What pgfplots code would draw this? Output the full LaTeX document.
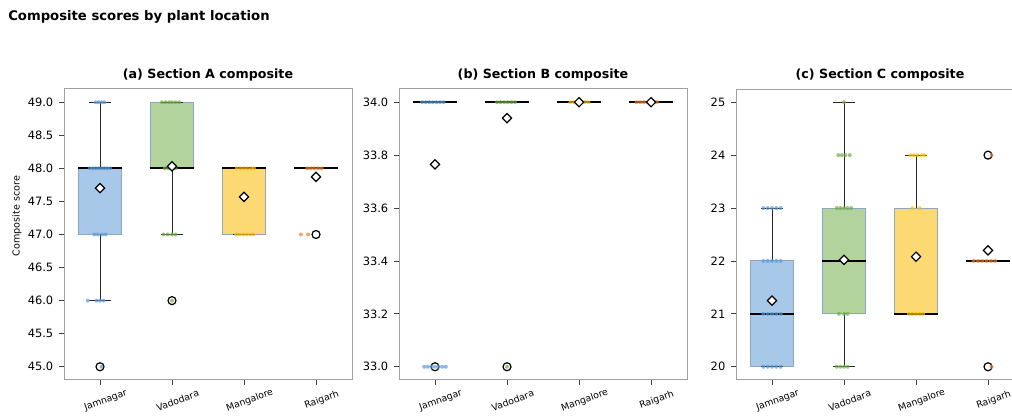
\documentclass[border=0pt]{standalone}
\usepackage{fontspec}
\setmainfont{DejaVu Sans}
\usepackage{pgfplots}
\pgfplotsset{compat=1.18}
\definecolor{ptblue}{HTML}{5B9BD5}
\definecolor{ptgreen}{HTML}{70AD47}
\definecolor{ptyellow}{HTML}{FFC000}
\definecolor{ptorange}{HTML}{ED7D31}
\definecolor{fblue}{HTML}{A7C8E8}
\definecolor{fgreen}{HTML}{B3D39C}
\definecolor{fyellow}{HTML}{FDD974}
\definecolor{spine}{HTML}{A0A0A0}
\definecolor{boxedge}{HTML}{8FA8BE}
\pgfplotsset{
  panel/.style={
    scale only axis, width=216pt, height=218.25pt, anchor=south west,
    xmin=-0.5, xmax=3.5, xtick={0,1,2,3},
    xticklabels={Jamnagar,Vadodara,Mangalore,Raigarh},
    tick pos=left, tick align=outside, major tick length=3.5pt,
    axis line style={spine, line width=0.75pt},
    every tick/.style={black!75, line width=0.6pt},
    xticklabel style={font=\fontsize{7}{8}\selectfont, rotate=20, anchor=center, yshift=-12.5pt},
    yticklabel style={font=\fontsize{8.6}{9}\selectfont, xshift=-1pt},
    /pgf/number format/assume math mode=true,
    unbounded coords=jump,
    clip=false,
  },
  onedec/.style={yticklabel style={/pgf/number format/fixed, /pgf/number format/fixed zerofill, /pgf/number format/precision=1}},
  bx/.style={draw=boxedge, line width=0.8pt, fill=#1},
  wh/.style={draw=black!85, line width=0.75pt},
  med/.style={draw=black, line width=1.4pt},
  pts/.style={only marks, mark=*, mark size=1.5pt, color=#1, fill opacity=0.7, draw opacity=0},
  outl/.style={only marks, mark=o, mark size=3pt, black, line width=0.9pt},
  mn/.style={only marks, mark=square*, mark size=2.45pt, black, mark options={rotate=45, fill=white, draw=black, line width=0.9pt}},
}
\begin{document}
\begin{tikzpicture}
% ---------- (a)
\begin{axis}[panel, onedec, at={(48pt,30pt)}, ymin=44.8, ymax=49.2, ytick={45,45.5,...,49}]
\addplot[bx=fblue] coordinates {(-0.3,47)(0.3,47)(0.3,48)(-0.3,48)(-0.3,47)};
\addplot[bx=fgreen] coordinates {(0.7,48)(1.3,48)(1.3,49)(0.7,49)(0.7,48)};
\addplot[bx=fyellow] coordinates {(1.7,47)(2.3,47)(2.3,48)(1.7,48)(1.7,47)};
\addplot[wh] coordinates {(0,48)(0,49) (0,nan) (-0.15,49)(0.15,49) (0,nan) (0,47)(0,46) (0,nan) (-0.15,46)(0.15,46) (0,nan)
 (1,48)(1,47) (1,nan) (0.85,49)(1.15,49) (1,nan) (0.85,47)(1.15,47) (1,nan)
 (1.85,48)(2.15,48) (2,nan) (1.85,47)(2.15,47) (2,nan) (2.85,48)(3.15,48)};
\addplot[med] coordinates {(-0.3,48)(0.3,48) (0,nan) (0.7,48)(1.3,48) (1,nan) (1.7,48)(2.3,48) (2,nan) (2.7,48)(3.3,48)};
\addplot[outl] coordinates {(0,45) (1,46) (3,47)};
\addplot[pts=ptblue] coordinates {(-0.06,49)(-0.02,49)(0.02,49)(0.06,49)
 (-0.14,48)(-0.1,48)(-0.06,48)(-0.02,48)(0.02,48)(0.06,48)(0.1,48)(0.14,48)
 (-0.08,47)(-0.03,47)(0.03,47)(0.08,47)
 (-0.17,46)(-0.05,46)(0,46)(0.05,46) (0.02,45)};
\addplot[pts=ptgreen] coordinates {(0.86,49)(0.91,49)(0.96,49)(1.0,49)(1.05,49)(1.1,49)
 (0.9,48)(0.95,48)(1.0,48)(1.05,48)
 (0.88,47)(0.94,47)(1.0,47)(1.05,47) (1.0,46)};
\addplot[pts=ptyellow] coordinates {(1.9,48)(1.95,48)(2.0,48)(2.05,48)(2.1,48)(2.14,48)
 (1.89,47)(1.94,47)(1.99,47)(2.04,47)(2.09,47)(2.13,47)};
\addplot[pts=ptorange] coordinates {(2.88,48)(2.93,48)(2.98,48)(3.03,48)(3.08,48)
 (2.79,47)(2.89,47)};
\addplot[mn] coordinates {(0,47.7) (1,48.03) (2,47.57) (3,47.87)};
\end{axis}
% ---------- (b)
\begin{axis}[panel, onedec, at={(299.25pt,30pt)}, ymin=32.95, ymax=34.05, ytick={33,33.2,...,34.01}]
\addplot[wh] coordinates {(-0.15,34)(0.15,34) (0,nan) (0.85,34)(1.15,34) (1,nan) (1.85,34)(2.15,34) (2,nan) (2.85,34)(3.15,34)};
\addplot[med] coordinates {(-0.3,34)(0.3,34) (0,nan) (0.7,34)(1.3,34) (1,nan) (1.7,34)(2.3,34) (2,nan) (2.7,34)(3.3,34)};
\addplot[outl] coordinates {(0,33) (1,33)};
\addplot[pts=ptblue] coordinates {(-0.18,34)(-0.13,34)(-0.08,34)(-0.03,34)(0.02,34)(0.07,34)(0.12,34)
 (-0.15,33)(-0.1,33)(-0.05,33)(0,33)(0.05,33)(0.1,33)(0.15,33)};
\addplot[pts=ptgreen] coordinates {(0.86,34)(0.91,34)(0.96,34)(1.01,34)(1.06,34)(1.11,34) (1.0,33)};
\addplot[pts=ptyellow] coordinates {(1.88,34)(1.93,34)(1.98,34)(2.03,34)(2.08,34)(2.13,34)};
\addplot[pts=ptorange] coordinates {(2.8,34)(2.85,34)(2.9,34)(2.95,34)(3.0,34)(3.05,34)(3.08,34)};
\addplot[mn] coordinates {(0,33.765) (1,33.94) (2,34) (3,34)};
\end{axis}
% ---------- (c)
\begin{axis}[panel, at={(552pt,30pt)}, ymin=19.75, ymax=25.25, ytick={20,...,25}]
\addplot[bx=fblue] coordinates {(-0.3,20)(0.3,20)(0.3,22)(-0.3,22)(-0.3,20)};
\addplot[bx=fgreen] coordinates {(0.7,21)(1.3,21)(1.3,23)(0.7,23)(0.7,21)};
\addplot[bx=fyellow] coordinates {(1.7,21)(2.3,21)(2.3,23)(1.7,23)(1.7,21)};
\addplot[wh] coordinates {(0,22)(0,23) (0,nan) (-0.15,23)(0.15,23) (0,nan) (-0.15,20)(0.15,20) (0,nan)
 (1,23)(1,25) (1,nan) (0.85,25)(1.15,25) (1,nan) (1,21)(1,20) (1,nan) (0.85,20)(1.15,20) (1,nan)
 (2,23)(2,24) (2,nan) (1.85,24)(2.15,24) (2,nan) (1.85,21)(2.15,21) (2,nan)
 (2.85,22)(3.15,22)};
\addplot[med] coordinates {(-0.3,21)(0.3,21) (0,nan) (0.7,22)(1.3,22) (1,nan) (1.7,21)(2.3,21) (2,nan) (2.7,22)(3.3,22)};
\addplot[outl] coordinates {(3,24) (3,20)};
\addplot[pts=ptblue] coordinates {(-0.12,23)(-0.06,23)(0,23)(0.06,23)(0.12,23)
 (-0.12,22)(-0.06,22)(0,22)(0.06,22)(0.12,22)
 (-0.12,21)(-0.06,21)(0,21)(0.06,21)(0.12,21)
 (-0.12,20)(-0.06,20)(0,20)(0.06,20)(0.12,20)};
\addplot[pts=ptgreen] coordinates {(1.0,25) (0.92,24)(0.97,24)(1.02,24)(1.08,24)
 (0.9,23)(0.95,23)(1.0,23)(1.05,23)(1.1,23) (1.0,22)
 (0.93,21)(1.0,21)(1.05,21) (0.9,20)(0.95,20)(1.0,20)(1.05,20)};
\addplot[pts=ptyellow] coordinates {(1.92,24)(1.97,24)(2.02,24)(2.08,24)(2.12,24)
 (1.95,23)(2.05,23) (1.9,21)(1.95,21)(2.0,21)(2.05,21)(2.1,21)};
\addplot[pts=ptorange] coordinates {(3.05,24) (2.8,22)(2.86,22)(2.92,22)(2.98,22)(3.04,22)(3.1,22) (3.05,20)};
\addplot[mn] coordinates {(0,21.25) (1,22.02) (2,22.08) (3,22.2)};
\end{axis}
% ---------- titles
\node[anchor=west, inner sep=0pt, font=\fontsize{9.9}{11}\selectfont\bfseries] at (6pt,302.25pt) {Composite scores by plant location};
\node[font=\fontsize{9.5}{11}\selectfont\bfseries] at (156pt,258.75pt) {(a) Section A composite};
\node[font=\fontsize{9.5}{11}\selectfont\bfseries] at (407.25pt,258.75pt) {(b) Section B composite};
\node[font=\fontsize{9.5}{11}\selectfont\bfseries] at (660pt,258.75pt) {(c) Section C composite};
\node[rotate=90, font=\fontsize{7.2}{9}\selectfont] at (12.75pt,153pt) {Composite score};
\pgfresetboundingbox
\useasboundingbox (0,0) rectangle (759pt,315pt);
\end{tikzpicture}
\end{document}
